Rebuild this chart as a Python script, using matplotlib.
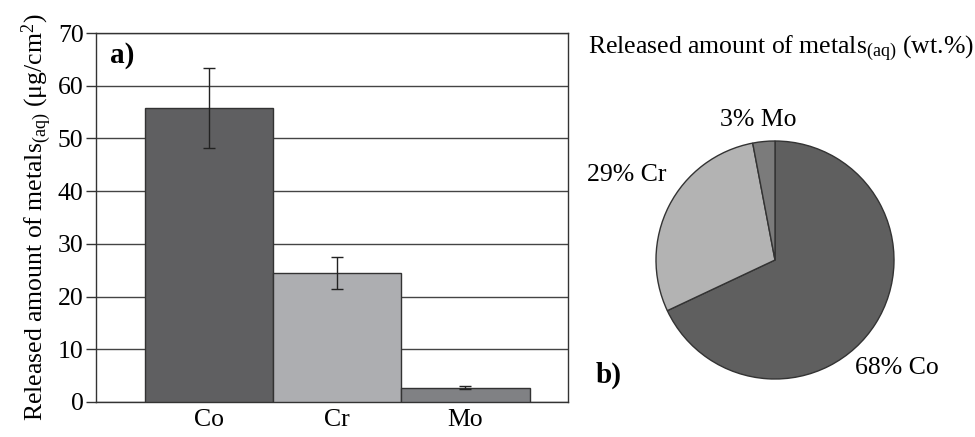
import numpy as np
import matplotlib
matplotlib.use("Agg")
import matplotlib.pyplot as plt

plt.rcParams['font.family'] = ['Liberation Serif', 'DejaVu Serif']
plt.rcParams['mathtext.fontset'] = 'custom'
plt.rcParams['mathtext.rm'] = 'Liberation Serif'
plt.rcParams['mathtext.it'] = 'Liberation Serif:italic'

# data
metals = ['Co', 'Cr', 'Mo']
released = [55.8, 24.5, 2.7]          # ug/cm2
released_err = [7.6, 3.1, 0.3]
pie_share = [68, 29, 3]               # wt.%
bar_colors = ['#5f5f61', '#adaeb1', '#808184']
pie_colors = ['#5f5f5f', '#b3b3b3', '#7b7b7b']

W, H = 975, 437
fig = plt.figure(figsize=(W / 100, H / 100), dpi=100)
fs = 18.5

''' a) bar chart '''
ax = fig.add_axes([96 / W, (H - 402) / H, (568 - 96) / W, (402 - 33) / H])
x = np.arange(len(metals))
ax.bar(x, released, width=1.0, color=bar_colors, edgecolor='#333333',
       linewidth=1.0, zorder=3)
ax.errorbar(x, released, yerr=released_err, fmt='none', ecolor='#222222',
            elinewidth=1.0, capsize=4, capthick=1.0, zorder=4)
ax.set_ylim(0, 70)
ax.set_xlim(-0.883, 2.8)
ax.set_yticks(range(0, 71, 10))
ax.set_xticks(x)
ax.set_xticklabels(metals)
ax.yaxis.grid(True, color='#444444', linewidth=1.0, zorder=0)
ax.tick_params(axis='y', direction='out', length=7, width=1.0,
               labelsize=fs, pad=2, color='#333333')
ax.tick_params(axis='x', length=0, labelsize=fs, pad=5)
for s in ax.spines.values():
    s.set_color('#333333')
    s.set_linewidth(1.0)
ax.set_ylabel(r'Released amount of metals$_{\rm (aq)}$ ($\rm\mu$g/cm$^{2}$)',
              fontsize=fs, labelpad=3)
ax.text(0.03, 0.975, 'a)', transform=ax.transAxes, fontsize=21,
        fontweight='bold', va='top', ha='left')

''' b) pie chart '''
r = 119
cx, cy = 775, 260
pax = fig.add_axes([(cx - r) / W, (H - cy - r) / H, 2 * r / W, 2 * r / H])
wedges, _ = pax.pie(pie_share, colors=pie_colors, startangle=90,
                    counterclock=False,
                    wedgeprops=dict(edgecolor='#333333', linewidth=1.0))
pax.set_xlim(-1, 1)
pax.set_ylim(-1, 1)
pax.set_aspect('equal')
pax.axis('off')

# label positions (pixel offsets from pie centre)
label_pos = [(122, -108), (-148, 85), (-17, 140)]
for name, share, (dx, dy) in zip(metals, pie_share, label_pos):
    fig.text((cx + dx) / W, (H - cy + dy) / H, '{0}% {1}'.format(share, name),
             fontsize=fs, ha='center', va='center')

fig.text(781 / W, (H - 48) / H,
         r'Released amount of metals$_{\rm (aq)}$ (wt.%)',
         fontsize=fs, ha='center', va='center')
fig.text(596 / W, (H - 375) / H, 'b)', fontsize=21, fontweight='bold',
         ha='left', va='center')

fig.savefig('out.png', dpi=100)
